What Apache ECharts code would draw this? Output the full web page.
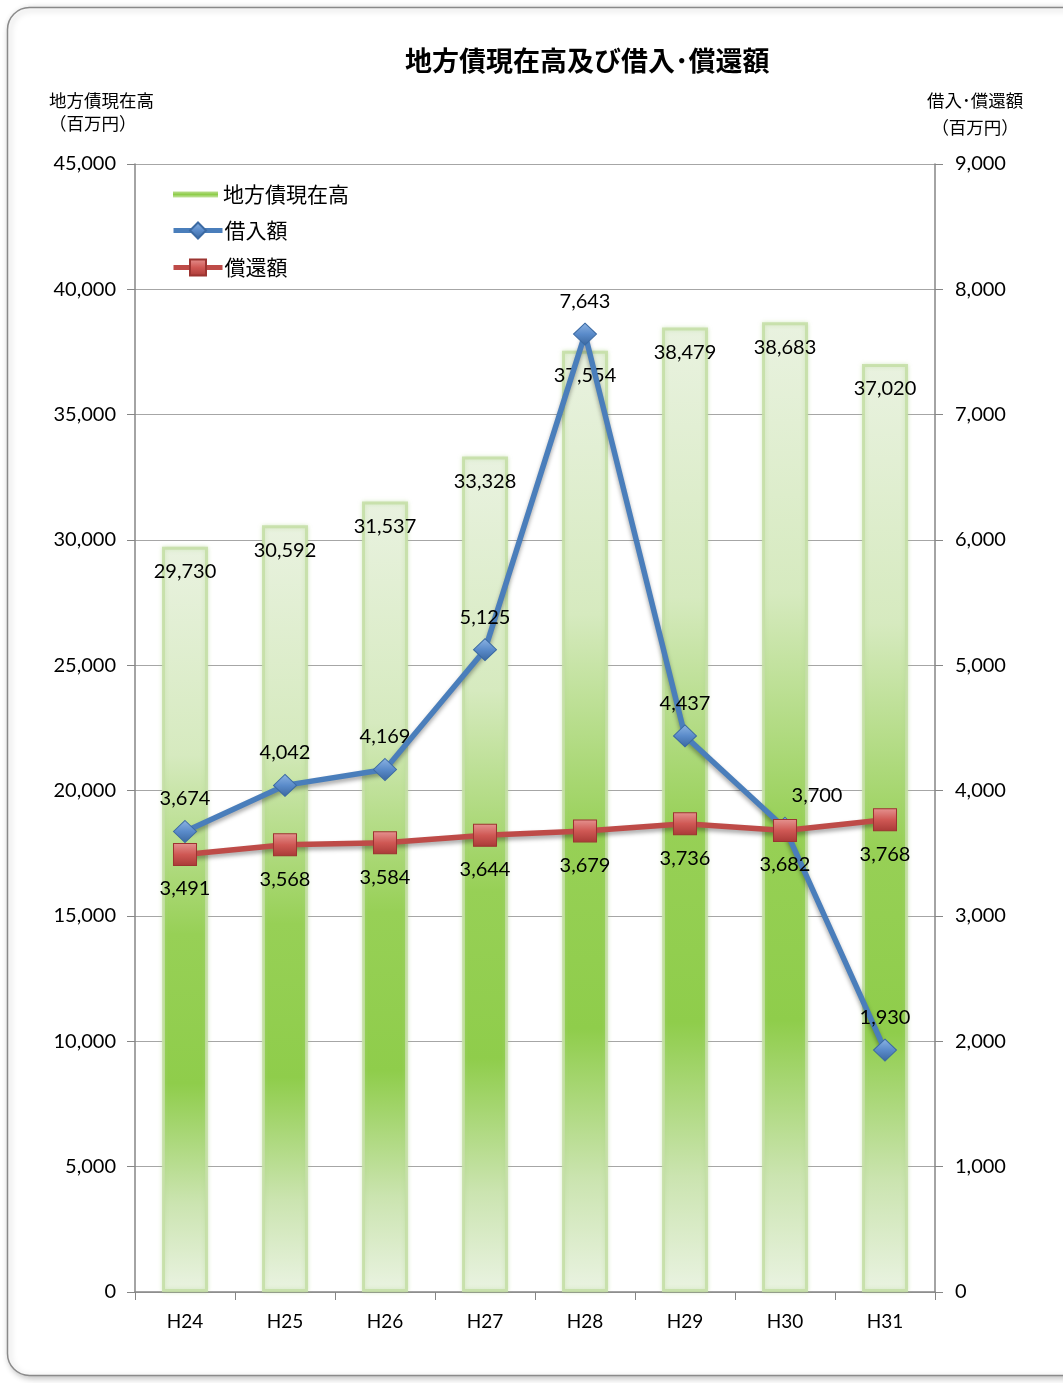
<!DOCTYPE html>
<html>
<head>
<meta charset="utf-8">
<title>地方債現在高及び借入･償還額</title>
<script src="https://cdn.jsdelivr.net/npm/echarts@6/dist/echarts.min.js"></script>
<style>
  html, body { margin: 0; padding: 0; background: #ffffff; }
  #chart { width: 1063px; height: 1383px; }
</style>
</head>
<body>
<div id="chart"></div>
<script>
// 年度
var categories = ['H24', 'H25', 'H26', 'H27', 'H28', 'H29', 'H30', 'H31'];
// 地方債現在高（百万円）
var balance = [29730, 30592, 31537, 33328, 37554, 38479, 38683, 37020];
// 借入額（百万円）
var borrowing = [3674, 4042, 4169, 5125, 7643, 4437, 3700, 1930];
// 償還額（百万円）
var repayment = [3491, 3568, 3584, 3644, 3679, 3736, 3682, 3768];

var NUM_FONT = "Lato, 'Noto Sans CJK JP', sans-serif";
var JP_FONT = "'Noto Sans CJK JP', 'Noto Sans', sans-serif";

function fmt(v) {
  return String(v).replace(/\B(?=(\d{3})+(?!\d))/g, ',');
}

var barGradient = new echarts.graphic.LinearGradient(0, 0, 0, 1, [
  { offset: 0.00, color: '#e9f2e0' },
  { offset: 0.28, color: '#d6eabf' },
  { offset: 0.52, color: '#97d056' },
  { offset: 0.72, color: '#8fcd4b' },
  { offset: 0.88, color: '#cbe4b0' },
  { offset: 1.00, color: '#eaf3e2' }
]);

var diamondFill = new echarts.graphic.LinearGradient(0, 0, 0, 1, [
  { offset: 0, color: '#8db4e3' },
  { offset: 0.5, color: '#5a8bca' },
  { offset: 1, color: '#3a679f' }
]);
var squareFill = new echarts.graphic.LinearGradient(0, 0, 0, 1, [
  { offset: 0, color: '#e59390' },
  { offset: 0.5, color: '#cf5854' },
  { offset: 1, color: '#a93a37' }
]);

// 借入額ラベル：H30 は償還額と重なるので右へずらす
var borrowingData = borrowing.map(function (v, i) {
  if (categories[i] === 'H30') {
    return { value: v, label: { offset: [32, 0] } };
  }
  return v;
});

var chart = echarts.init(document.getElementById('chart'), null, { renderer: 'canvas' });

chart.setOption({
  backgroundColor: '#ffffff',
  animation: false,
  title: {
    text: '地方債現在高及び借入･償還額',
    left: 400,
    top: 42,
    textStyle: { fontFamily: JP_FONT, fontSize: 27, fontWeight: 'bold', color: '#000' }
  },
  graphic: [
    {
      type: 'rect',
      silent: true,
      z: -10,
      shape: { x: 7.5, y: 7.5, width: 1110, height: 1368, r: 22 },
      style: {
        fill: '#ffffff',
        stroke: '#8a8a8a',
        lineWidth: 1.5,
        shadowColor: 'rgba(0,0,0,0.25)',
        shadowBlur: 6,
        shadowOffsetX: 2,
        shadowOffsetY: 2
      }
    },
    {
      type: 'text',
      left: 49,
      top: 89,
      style: {
        text: '地方債現在高\n（百万円）',
        font: "17.5px 'Noto Sans CJK JP'",
        lineHeight: 23,
        fill: '#000',
        textAlign: 'left'
      }
    },
    {
      type: 'text',
      left: 927,
      top: 87,
      style: {
        text: '借入･償還額\n（百万円）',
        font: "17.5px 'Noto Sans CJK JP'",
        lineHeight: 27,
        fill: '#000',
        textAlign: 'center'
      }
    }
  ],
  legend: [
    {
      data: [{
        name: '地方債現在高',
        icon: 'rect',
        itemStyle: {
          color: new echarts.graphic.LinearGradient(0, 0, 0, 1, [
            { offset: 0, color: '#b9de8c' },
            { offset: 0.5, color: '#8fcd4b' },
            { offset: 1, color: '#c6e4a2' }
          ]),
          borderWidth: 0
        }
      }],
      left: 173,
      top: 184,
      padding: 0,
      itemWidth: 45,
      itemHeight: 6,
      textStyle: { fontFamily: JP_FONT, fontSize: 21, color: '#000' },
      selectedMode: false
    },
    {
      data: [
        { name: '借入額', lineStyle: { width: 5, color: '#4a7ebb' } },
        { name: '償還額', lineStyle: { width: 5, color: '#be4b48' } }
      ],
      orient: 'vertical',
      left: 171,
      top: 220,
      padding: 0,
      itemWidth: 49,
      itemHeight: 20,
      itemGap: 16,
      textStyle: { fontFamily: JP_FONT, fontSize: 21, color: '#000', padding: [0, 0, 0, -3] },
      selectedMode: false
    }
  ],
  grid: { left: 135, right: 128, top: 164, bottom: 91, containLabel: false },
  xAxis: {
    type: 'category',
    data: categories,
    boundaryGap: true,
    axisLine: { lineStyle: { color: '#868686', width: 1.5 } },
    axisTick: { show: true, length: 8, lineStyle: { color: '#868686' } },
    axisLabel: { color: '#000', fontFamily: NUM_FONT, fontSize: 19, margin: 20 }
  },
  yAxis: [
    {
      type: 'value',
      min: 0,
      max: 45000,
      interval: 5000,
      axisLine: { show: true, lineStyle: { color: '#868686', width: 1.5 } },
      axisTick: { show: true, length: 8, lineStyle: { color: '#868686' } },
      axisLabel: {
        color: '#000', fontFamily: NUM_FONT, fontSize: 20, margin: 19,
        formatter: function (v) { return fmt(v); }
      },
      splitLine: { show: true, lineStyle: { color: '#a6a6a6', width: 1 } }
    },
    {
      type: 'value',
      min: 0,
      max: 9000,
      interval: 1000,
      position: 'right',
      axisLine: { show: true, lineStyle: { color: '#868686', width: 1.5 } },
      axisTick: { show: true, length: 8, lineStyle: { color: '#868686' } },
      axisLabel: {
        color: '#000', fontFamily: NUM_FONT, fontSize: 20, margin: 20,
        formatter: function (v) { return fmt(v); }
      },
      splitLine: { show: false }
    }
  ],
  series: [
    {
      name: '地方債現在高',
      type: 'bar',
      yAxisIndex: 0,
      data: balance,
      barWidth: 46,
      itemStyle: {
        color: barGradient,
        borderColor: 'rgba(196,222,166,0.85)',
        borderWidth: 3,
        shadowColor: 'rgba(170,210,130,0.45)',
        shadowBlur: 4
      },
      label: {
        show: true,
        position: 'insideTop',
        distance: 15,
        color: '#000',
        fontFamily: NUM_FONT,
        fontSize: 20,
        formatter: function (p) { return fmt(p.value); }
      },
      z: 1
    },
    {
      name: '借入額',
      type: 'line',
      yAxisIndex: 1,
      data: borrowingData,
      symbol: 'diamond',
      symbolSize: [23, 22],
      lineStyle: {
        color: '#4a7ebb',
        width: 5.5,
        shadowColor: 'rgba(0,0,0,0.35)',
        shadowBlur: 4,
        shadowOffsetY: 3
      },
      itemStyle: {
        color: diamondFill,
        borderColor: '#3b6aa3',
        borderWidth: 1
      },
      label: {
        show: true,
        position: 'top',
        distance: 11,
        color: '#000',
        fontFamily: NUM_FONT,
        fontSize: 20,
        formatter: function (p) { return fmt(p.value); }
      },
      z: 3
    },
    {
      name: '償還額',
      type: 'line',
      yAxisIndex: 1,
      data: repayment,
      symbol: 'rect',
      symbolSize: [23, 22],
      lineStyle: {
        color: '#be4b48',
        width: 5.5,
        shadowColor: 'rgba(0,0,0,0.35)',
        shadowBlur: 4,
        shadowOffsetY: 3
      },
      itemStyle: {
        color: squareFill,
        borderColor: '#9c3431',
        borderWidth: 1
      },
      label: {
        show: true,
        position: 'bottom',
        distance: 13,
        color: '#000',
        fontFamily: NUM_FONT,
        fontSize: 20,
        formatter: function (p) { return fmt(p.value); }
      },
      z: 4
    }
  ]
});
</script>
</body>
</html>
